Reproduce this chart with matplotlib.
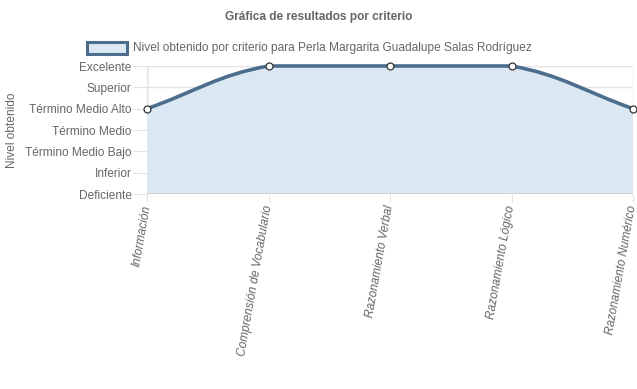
import matplotlib
matplotlib.use("Agg")
import matplotlib.pyplot as plt
from matplotlib.path import Path
from matplotlib.patches import PathPatch, Rectangle
import numpy as np

plt.rcParams['font.family'] = ['Liberation Sans', 'DejaVu Sans']

criterios = ['Información', 'Comprensión de Vocabulario', 'Razonamiento Verbal',
             'Razonamiento Lógico', 'Razonamiento Numérico']
niveles = ['Deficiente', 'Inferior', 'Término Medio Bajo', 'Término Medio',
           'Término Medio Alto', 'Superior', 'Excelente']
valores = [4, 6, 6, 6, 4]
serie = 'Nivel obtenido por criterio para Perla Margarita Guadalupe Salas Rodríguez'

linea = '#4d6d8c'
relleno = '#dbe8f4'
gris = '#666666'
rejilla = '#e3e3e3'

W, H = 637, 389
fig = plt.figure(figsize=(W / 100, H / 100), dpi=100)
ax = fig.add_axes([147 / W, 1 - 194 / H, (633 - 147) / W, 128 / H])
ax.set_xlim(0, len(criterios) - 1)
ax.set_ylim(0, len(niveles) - 1)

# curva tipo Chart.js (tension 0.4) calculada en pixeles
x = np.arange(len(criterios))
pts = ax.transData.transform(np.column_stack([x, valores]))
top_px = ax.transData.transform((0, len(niveles) - 1))[1]
bot_px = ax.transData.transform((0, 0))[1]
t = 0.4
ctrl_prev, ctrl_next = [], []
for i, p in enumerate(pts):
    a = pts[i - 1] if i > 0 else p
    b = pts[i + 1] if i < len(pts) - 1 else p
    d01 = np.hypot(*(p - a))
    d12 = np.hypot(*(b - p))
    tot = d01 + d12
    s01 = d01 / tot if tot else 0
    s12 = d12 / tot if tot else 0
    cp = p - t * s01 * (b - a)
    cn = p + t * s12 * (b - a)
    cp[1] = np.clip(cp[1], bot_px, top_px)
    cn[1] = np.clip(cn[1], bot_px, top_px)
    ctrl_prev.append(cp)
    ctrl_next.append(cn)

verts = [pts[0]]
codes = [Path.MOVETO]
for i in range(1, len(pts)):
    verts += [ctrl_next[i - 1], ctrl_prev[i], pts[i]]
    codes += [Path.CURVE4] * 3
inv = ax.transData.inverted()
vdata = inv.transform(np.array(verts))

fill_verts = list(vdata) + [(x[-1], 0), (x[0], 0), vdata[0]]
fill_codes = codes + [Path.LINETO, Path.LINETO, Path.CLOSEPOLY]
ax.add_patch(PathPatch(Path(fill_verts, fill_codes), facecolor=relleno,
                       edgecolor='none', zorder=1))
ax.add_patch(PathPatch(Path(vdata, codes), facecolor='none', edgecolor=linea,
                       lw=2.6, zorder=3, clip_on=False, capstyle='round'))
ax.plot(x, valores, 'o', ms=5, mfc='white', mec='#333333', mew=0.9,
        zorder=4, clip_on=False)

ax.set_xticks(x)
ax.set_xticklabels(criterios, rotation=80, ha='right', va='center',
                   rotation_mode='anchor', style='italic', fontsize=8.6, color=gris)
ax.set_yticks(range(len(niveles)))
ax.set_yticklabels(niveles, fontsize=8.6, color=gris)
ax.tick_params(axis='y', length=10, color=rejilla, pad=1)
ax.tick_params(axis='x', length=6, color=rejilla, pad=2)
ax.grid(True, color=rejilla, lw=1, zorder=0)
ax.set_axisbelow(True)
for s in ax.spines.values():
    s.set_visible(False)
ax.axhline(0, color='#cccccc', lw=1.2, zorder=2)
ax.axvline(0, color='#cccccc', lw=1, zorder=0)

fig.text(12 / W, 1 - 130 / H, 'Nivel obtenido', rotation=90, ha='center',
         va='center', fontsize=8.6, color=gris)
fig.text(319 / W, 1 - 17 / H, 'Gráfica de resultados por criterio', ha='center',
         va='center', fontsize=8.6, fontweight='bold', color=gris)

fig.patches.append(Rectangle((87 / W, 1 - 54 / H), 40 / W, 12 / H,
                             transform=fig.transFigure, facecolor=relleno,
                             edgecolor=linea, lw=2.2))
fig.text(133 / W, 1 - 48 / H, serie, ha='left', va='center', fontsize=8.6,
         color=gris)

fig.savefig('out.png', dpi=100)
